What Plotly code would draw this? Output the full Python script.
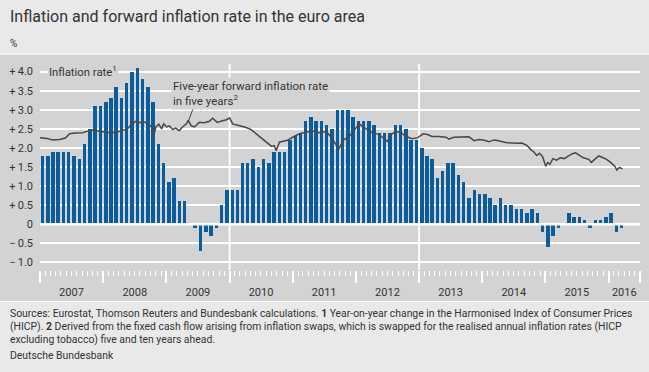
import plotly.graph_objects as go

# ---------------- data ----------------
months = [f"{y}-{m:02d}-01" for y in range(2007, 2017) for m in range(1, 13)][:111]  # Jan 2007 .. Mar 2016
hicp = [
    1.8, 1.8, 1.9, 1.9, 1.9, 1.9, 1.8, 1.7, 2.1, 2.5, 3.1, 3.1,      # 2007
    3.2, 3.3, 3.6, 3.3, 3.7, 4.0, 4.1, 3.8, 3.6, 3.2, 2.1, 1.6,      # 2008
    1.1, 1.2, 0.6, 0.6, 0.0, -0.1, -0.7, -0.2, -0.3, -0.1, 0.5, 0.9,  # 2009
    0.9, 0.9, 1.6, 1.6, 1.7, 1.5, 1.7, 1.6, 1.9, 1.9, 1.9, 2.2,      # 2010
    2.3, 2.4, 2.7, 2.8, 2.7, 2.7, 2.6, 2.5, 3.0, 3.0, 3.0, 2.8,      # 2011
    2.7, 2.7, 2.7, 2.6, 2.4, 2.4, 2.4, 2.6, 2.6, 2.5, 2.2, 2.2,      # 2012
    2.0, 1.8, 1.7, 1.2, 1.4, 1.6, 1.6, 1.3, 1.1, 0.7, 0.9, 0.8,      # 2013
    0.8, 0.7, 0.5, 0.7, 0.5, 0.5, 0.4, 0.4, 0.3, 0.4, 0.3, -0.2,     # 2014
    -0.6, -0.3, -0.1, 0.0, 0.3, 0.2, 0.2, 0.1, -0.1, 0.1, 0.1, 0.2,  # 2015
    0.3, -0.2, -0.1,                                                 # 2016
]

fwd_dates = [
    "2007-01-01", "2007-02-10", "2007-03-15", "2007-04-25", "2007-05-28", "2007-06-21",
    "2007-07-25", "2007-09-05", "2007-10-03", "2007-11-01", "2007-11-25", "2007-12-28",
    "2008-02-09", "2008-03-18", "2008-04-22", "2008-05-21", "2008-06-13", "2008-07-12",
    "2008-08-04", "2008-08-28", "2008-09-21", "2008-10-07", "2008-10-19", "2008-11-01",
    "2008-11-18", "2008-12-04", "2008-12-16", "2009-01-03", "2009-01-19", "2009-02-06",
    "2009-02-24", "2009-03-16", "2009-04-04", "2009-04-28", "2009-05-07", "2009-05-25",
    "2009-06-12", "2009-07-10", "2009-08-09", "2009-09-06", "2009-09-25", "2009-10-22",
    "2009-11-21", "2009-12-15", "2010-01-01", "2010-01-19", "2010-02-28", "2010-04-03",
    "2010-05-06", "2010-06-03", "2010-07-09", "2010-08-06", "2010-09-01", "2010-09-16",
    "2010-09-28", "2010-10-16", "2010-11-09", "2010-12-01", "2011-01-01", "2011-02-09",
    "2011-03-19", "2011-04-24", "2011-06-03", "2011-07-13", "2011-08-16", "2011-09-09",
    "2011-09-27", "2011-10-19", "2011-11-24", "2011-12-22", "2012-01-21", "2012-02-12",
    "2012-03-06", "2012-04-04", "2012-05-15", "2012-06-12", "2012-07-01", "2012-07-28",
    "2012-08-21", "2012-09-18", "2012-10-18", "2012-11-21", "2012-12-24", "2013-01-24",
    "2013-02-18", "2013-03-16", "2013-04-25", "2013-06-06", "2013-06-22", "2013-07-21",
    "2013-09-06", "2013-10-16", "2013-11-15", "2013-12-13", "2014-01-12", "2014-02-10",
    "2014-03-09", "2014-04-06", "2014-05-16", "2014-06-21", "2014-07-19", "2014-08-18",
    "2014-09-16", "2014-10-10", "2014-10-25", "2014-11-12", "2014-11-28", "2014-12-16",
    "2015-01-03", "2015-01-15", "2015-01-27", "2015-02-13", "2015-03-06", "2015-03-28",
    "2015-04-21", "2015-05-15", "2015-06-06", "2015-06-24", "2015-07-18", "2015-08-09",
    "2015-09-09", "2015-09-24", "2015-10-18", "2015-11-06", "2015-11-27", "2015-12-21",
    "2016-01-13", "2016-02-06", "2016-02-18", "2016-03-04", "2016-03-22",
]
fwd_values = [
    2.27, 2.25, 2.21, 2.22, 2.26, 2.37,
    2.39, 2.40, 2.44, 2.47, 2.45, 2.42,
    2.40, 2.41, 2.45, 2.50, 2.62, 2.71,
    2.66, 2.68, 2.62, 2.55, 2.32, 2.55,
    2.62, 2.50, 2.63, 2.55, 2.58, 2.48,
    2.52, 2.45, 2.55, 2.64, 2.72, 2.58,
    2.55, 2.67, 2.66, 2.70, 2.78, 2.67,
    2.71, 2.74, 2.79, 2.63, 2.58, 2.54,
    2.48, 2.37, 2.24, 2.12, 2.04, 2.06,
    1.93, 2.15, 2.17, 2.20, 2.28, 2.37,
    2.41, 2.45, 2.40, 2.43, 2.26, 2.08,
    1.99, 2.20, 2.30, 2.45, 2.63, 2.55,
    2.48, 2.40, 2.35, 2.25, 2.17, 2.37,
    2.43, 2.40, 2.30, 2.24, 2.27, 2.37,
    2.35, 2.30, 2.30, 2.28, 2.23, 2.28,
    2.28, 2.29, 2.19, 2.22, 2.20, 2.16,
    2.21, 2.19, 2.14, 2.12, 2.12, 2.13,
    2.07, 1.95, 1.90, 1.80, 1.86, 1.77,
    1.52, 1.62, 1.57, 1.72, 1.68, 1.74,
    1.72, 1.79, 1.85, 1.87, 1.80, 1.74,
    1.70, 1.62, 1.72, 1.79, 1.75, 1.70,
    1.62, 1.52, 1.42, 1.49, 1.45,
]

year_labels = [str(y) for y in range(2007, 2017)]
year_label_pos = [f"{y}-07-02" for y in range(2007, 2016)] + ["2016-04-01"]
year_starts = [f"{y}-01-01" for y in range(2007, 2017)] + ["2016-07-01"]
y_ticks = [-1.0, -0.5, 0, 0.5, 1.0, 1.5, 2.0, 2.5, 3.0, 3.5, 4.0]
y_ticktext = ["\u2212\u20091.0", "\u2212\u20090.5", "0", "+\u20090.5", "+\u20091.0", "+\u20091.5",
              "+\u20092.0", "+\u20092.5", "+\u20093.0", "+\u20093.5", "+\u20094.0"]

# ---------------- style ----------------
W, H = 649, 372
L, R, T, B = 40, 9, 64, 102
PW, PH = W - L - R, H - T - B
FONT = "Roboto"
TXT = "#333333"
PANEL = "#d3d3d3"
OUTER = "#e9e9e9"
BLUE = "#0a5c9c"
LINE = "#4a4744"

def px_x(px):
    return (px - L) / PW

def px_y(py):
    return (H - B - py) / PH

fig = go.Figure()
fig.add_trace(go.Bar(
    x=months, y=hicp, xperiod="M1", xperiodalignment="middle",
    width=20 * 86400000, marker=dict(color=BLUE, line=dict(width=0)),
    showlegend=False, hoverinfo="skip",
))
fig.add_trace(go.Scatter(
    x=fwd_dates, y=fwd_values, mode="lines", xaxis="x2",
    line=dict(color=LINE, width=1.5), showlegend=False, hoverinfo="skip",
))

xr = ["2007-01-01", "2016-07-01"]
fig.update_layout(
    width=W, height=H, margin=dict(l=L, r=R, t=T, b=B, pad=0),
    paper_bgcolor=OUTER, plot_bgcolor=PANEL,
    font=dict(family=FONT, color=TXT, size=11),
    bargap=0,
    xaxis=dict(
        type="date", range=xr, showgrid=False, zeroline=False, showline=False,
        tickmode="array", tickvals=year_label_pos, ticktext=year_labels,
        ticks="outside", ticklen=12, tickcolor="rgba(0,0,0,0)",
        tickfont=dict(size=11, color=TXT, family=FONT),
        minor=dict(ticks="outside", ticklen=5, tickwidth=1.2, tickcolor="white",
                   dtick="M1", tick0="2007-01-01", showgrid=False),
    ),
    xaxis2=dict(
        type="date", range=xr, overlaying="x", matches="x", anchor="y", side="bottom",
        showgrid=False, zeroline=False, showline=False, showticklabels=False,
        tickmode="array", tickvals=year_starts, ticks="outside", ticklen=12,
        tickwidth=1.5, tickcolor="white",
    ),
    yaxis=dict(
        range=[-1.2, 4.2], tickmode="array", tickvals=y_ticks, ticktext=y_ticktext,
        showgrid=True, gridcolor="white", gridwidth=1.6, zeroline=False, showline=False,
        ticks="", ticklabelstandoff=6, tickfont=dict(size=11, color=TXT, family=FONT),
    ),
)

shapes = [
    # panel background
    dict(type="rect", xref="paper", yref="paper", x0=px_x(0), x1=px_x(W), y0=px_y(301), y1=px_y(54.5),
         fillcolor=PANEL, line=dict(width=0), layer="below"),
    dict(type="line", xref="paper", yref="paper", x0=px_x(0), x1=px_x(W), y0=px_y(54), y1=px_y(54),
         line=dict(color="white", width=1.2), layer="below"),
    dict(type="line", xref="paper", yref="paper", x0=px_x(0), x1=px_x(W), y0=px_y(301.5), y1=px_y(301.5),
         line=dict(color="white", width=1.2), layer="below"),
    # zero line on top of bars
    dict(type="line", xref="paper", yref="y", x0=0, x1=1, y0=0, y1=0,
         line=dict(color="white", width=2.4), layer="above"),
]
for d in ["2010-01-01", "2013-01-01"]:
    shapes.append(dict(type="line", xref="x", yref="paper", x0=d, x1=d, y0=0, y1=1,
                       line=dict(color="white", width=1.8), layer="below"))
# leader line for the forward-rate label
shapes.append(dict(type="line", xref="x", yref="y", x0="2009-06-08", y0=3.08, x1="2009-05-08", y1=2.70,
                   line=dict(color=TXT, width=0.9), layer="above"))
fig.update_layout(shapes=shapes)

ann = [
    dict(text="Inflation and forward inflation rate in the euro area", x=px_x(8), y=px_y(16),
         font=dict(size=16, color=TXT, family=FONT)),
    dict(text="%", x=px_x(8), y=px_y(43), font=dict(size=10, color=TXT, family=FONT)),
    dict(text="Inflation rate<sup>1</sup>", x=px_x(47), y=px_y(71.5), bgcolor=PANEL, borderpad=1,
         font=dict(size=11.3, color=TXT, family=FONT)),
    dict(text="Five-year forward inflation rate<br>in five years<sup>2</sup>", x=px_x(171), y=px_y(93),
         bgcolor=PANEL, borderpad=1, align="left", font=dict(size=11.5, color=TXT, family=FONT)),
    dict(text="Sources: Eurostat, Thomson Reuters and Bundesbank calculations. <b>1</b> Year-on-year change in the Harmonised Index of Consumer Prices",
         x=px_x(8), y=px_y(313), font=dict(size=10.4, color=TXT, family=FONT)),
    dict(text="(HICP). <b>2</b> Derived from the fixed cash flow arising from inflation swaps, which is swapped for the realised annual inflation rates (HICP",
         x=px_x(8), y=px_y(326), font=dict(size=10.4, color=TXT, family=FONT)),
    dict(text="excluding tobacco) five and ten years ahead.",
         x=px_x(8), y=px_y(339), font=dict(size=10.4, color=TXT, family=FONT)),
    dict(text="Deutsche Bundesbank", x=px_x(8), y=px_y(355), font=dict(size=10.4, color=TXT, family=FONT)),
]
for a in ann:
    a.update(xref="paper", yref="paper", xanchor="left", yanchor="middle", showarrow=False)
fig.update_layout(annotations=ann)

fig.write_html("out.html", config={"displayModeBar": False},
               post_script="document.body.style.margin='0';document.body.style.overflow='hidden';")
